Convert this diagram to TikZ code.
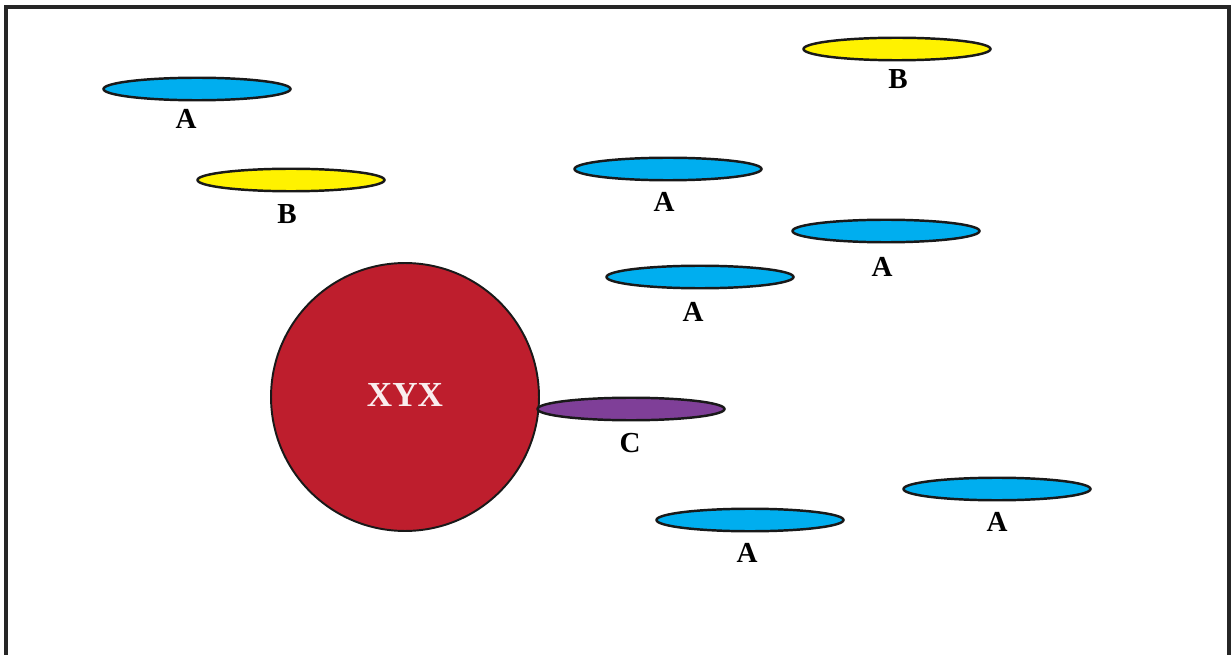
\documentclass[tikz,border=0pt]{standalone}
\usepackage{fontspec}
\setmainfont{Liberation Serif}
\usetikzlibrary{shapes.geometric}
\definecolor{discblue}{RGB}{0,174,239}
\definecolor{discyellow}{RGB}{255,242,0}
\definecolor{discpurple}{RGB}{127,63,152}
\definecolor{ballred}{RGB}{190,30,45}
\tikzset{
  disc/.style={ellipse, draw=black!90, line width=1.4pt, minimum width=3.74cm, minimum height=0.45cm, inner sep=0pt},
  lbl/.style={font=\bfseries\fontsize{16.5}{19}\selectfont, inner sep=1pt}
}
\begin{document}
\begin{tikzpicture}[x=0.02cm, y=-0.02cm]
		%%%%% FRAME %%%%%
		\useasboundingbox (0, 0) rectangle (1231, 655);
		\draw[line width=1.8pt, color=black!85] (6, 655) -- (6, 7) -- (1229, 7) -- (1229, 655);
		
		%%%%% BALL %%%%%
		\node[circle, draw=black!90, line width=1.1pt, fill=ballred, minimum size=5.36cm, inner sep=0pt] (ball) at (405, 397) {};
		\node[font=\bfseries\fontsize{20}{23}\selectfont, text=white!92!ballred] (balltext) at (405, 395) {XYX};
		
		%%%%% DISCS %%%%%
		\node[disc, fill=discblue] (a1) at (197, 89) {};
		\node[lbl] (a1lbl) at (186, 119) {A};
		
		\node[disc, fill=discyellow] (b1) at (291, 180) {};
		\node[lbl] (b1lbl) at (287, 214) {B};
		
		\node[disc, fill=discyellow] (b2) at (897, 49) {};
		\node[lbl] (b2lbl) at (898, 79) {B};
		
		\node[disc, fill=discblue] (a2) at (668, 169) {};
		\node[lbl] (a2lbl) at (664, 202) {A};
		
		\node[disc, fill=discblue] (a3) at (886, 231) {};
		\node[lbl] (a3lbl) at (882, 267) {A};
		
		\node[disc, fill=discblue] (a4) at (700, 277) {};
		\node[lbl] (a4lbl) at (693, 312) {A};
		
		\node[disc, fill=discpurple] (c1) at (631, 409) {};
		\node[lbl] (c1lbl) at (630, 443) {C};
		
		\node[disc, fill=discblue] (a5) at (750, 520) {};
		\node[lbl] (a5lbl) at (747, 553) {A};
		
		\node[disc, fill=discblue] (a6) at (997, 489) {};
		\node[lbl] (a6lbl) at (997, 522) {A};
		
		%%%%% END %%%%%
\end{tikzpicture}
\end{document}
